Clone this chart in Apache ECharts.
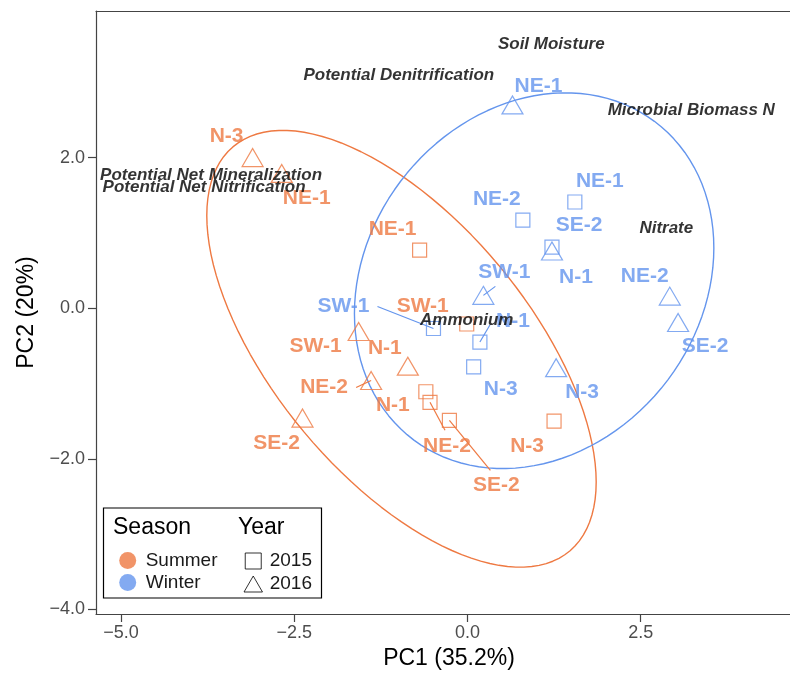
<!DOCTYPE html>
<html>
<head>
<meta charset="utf-8">
<script src="https://cdn.jsdelivr.net/npm/echarts@6/dist/echarts.min.js"></script>
<style>
html,body{margin:0;padding:0;background:#fff;}
#chart{width:790px;height:675px;}
</style>
</head>
<body>
<div id="chart"></div>
<script>
// ---------------- DATA ----------------
const summerSites = ['N-3','NE-1','SE-2','NE-2','SW-1','N-1','NE-1','SW-1','N-1','NE-2','SE-2','N-3'];
const summerYears = [2016,2016,2016,2016,2016,2016,2015,2015,2015,2015,2015,2015];
const summerPC1   = [-3.10,-2.68,-2.38,-1.39,-1.57,-0.86,-0.69,-0.01,-0.60,-0.54,-0.26,1.25];
const summerPC2   = [2.00,1.79,-1.46,-0.96,-0.31,-0.77,0.77,-0.21,-1.11,-1.25,-1.49,-1.50];

const winterSites = ['NE-1','N-1','SW-1','NE-2','SE-2','N-3','NE-1','NE-2','SE-2','SW-1','N-1','N-3'];
const winterYears = [2016,2016,2016,2016,2016,2016,2015,2015,2015,2015,2015,2015];
const winterPC1   = [0.65,1.22,0.23,2.92,3.04,1.28,1.55,0.80,1.22,-0.49,0.18,0.09];
const winterPC2   = [2.70,0.76,0.17,0.16,-0.19,-0.79,1.41,1.17,0.81,-0.27,-0.45,-0.78];

const loadingNames = ['Soil Moisture','Potential Denitrification','Microbial Biomass N','Nitrate','Ammonium','Potential Net Mineralization','Potential Net Nitrification'];
const loadingPC1   = [1.21,-0.99,3.23,2.87,-0.01,-3.70,-3.80];
const loadingPC2   = [3.51,3.09,2.63,1.06,-0.16,1.77,1.61];

const seasons = ['Summer','Winter'];
const years = ['2015','2016'];
const pc1Ticks = [-5,-2.5,0,2.5];
const pc2Ticks = [-4,-2,0,2];
const ellipseLevel = 0.95;

// ---------------- LAYOUT / STYLE (label placement in px) ----------------
const summerLabelOffset = [[-26,-21],[25,25],[-26,25],[-47,7],[-43,15],[-23,-18],[-27,-21],[-44,-18],[-33,13],[17,44],[47,65],[-27,25]];
const winterLabelOffset = [[26,-19],[24,26],[21,-23],[-25,-20],[27,24],[26,25],[25,-21],[-26,-21],[27,-22],[-90,-22],[33,-21],[27,22]];
const summerSegments = [null,null,null,[-15,7],null,null,null,null,null,[15,28],[41,50],null];
const winterSegments = [null,null,[12,-9],null,null,null,null,null,null,[-56,-22],[10,-17],null];

const ORANGE = '#EE7942';
const BLUE = '#6495ED';
const FONT = 'Liberation Sans, Arial, Helvetica, sans-serif';

// ---------------- ELLIPSE (stat_ellipse default type "t": MASS::cov.trob) ----------------
function covTrob(xs, ys, nu) {
  const n = xs.length, p = 2;
  let loc = [xs.reduce((a,b)=>a+b,0)/n, ys.reduce((a,b)=>a+b,0)/n];
  let w = new Array(n).fill(1);
  let X = [];
  for (let it = 0; it < 200; it++) {
    const w0 = w.slice();
    X = xs.map((x,i)=>[x-loc[0], ys[i]-loc[1]]);
    const sw = w.reduce((a,b)=>a+b,0);
    let a=0,b=0,c=0;
    X.forEach((v,i)=>{a+=w[i]*v[0]*v[0]; b+=w[i]*v[0]*v[1]; c+=w[i]*v[1]*v[1];});
    a/=sw; b/=sw; c/=sw;
    const det = a*c-b*b;
    w = X.map(v=>{const Q=(c*v[0]*v[0]-2*b*v[0]*v[1]+a*v[1]*v[1])/det; return (nu+p)/(nu+Q);});
    const sw2 = w.reduce((s,v)=>s+v,0);
    loc = [xs.reduce((s,x,i)=>s+w[i]*x,0)/sw2, ys.reduce((s,y,i)=>s+w[i]*y,0)/sw2];
    if (w.every((v,i)=>Math.abs(v-w0[i])<1e-4)) break;
  }
  let a=0,b=0,c=0;
  X.forEach((v,i)=>{a+=w[i]*v[0]*v[0]; b+=w[i]*v[0]*v[1]; c+=w[i]*v[1]*v[1];});
  return {center: loc, cov: [a/n, b/n, c/n]};
}
function ellipsePoints(xs, ys, level) {
  const n = xs.length;
  const r = covTrob(xs, ys, 5);
  const dfd = n-1;
  const F = (dfd/2) * (Math.pow(1-level, -2/dfd) - 1); // qf(level, 2, n-1)
  const radius = Math.sqrt(2 * F);
  const r11 = Math.sqrt(r.cov[0]);
  const r12 = r.cov[1]/r11;
  const r22 = Math.sqrt(r.cov[2]-r12*r12);
  const pts = [];
  const seg = 120;
  for (let k = 0; k <= seg; k++) {
    const t = 2*Math.PI*k/seg;
    const ct = Math.cos(t), st = Math.sin(t);
    pts.push([r.center[0] + radius*(ct*r11), r.center[1] + radius*(ct*r12 + st*r22)]);
  }
  return pts;
}

function pointData(sites, yrs, xs, ys, offs) {
  return sites.map((s,i)=>({
    name: s,
    value: [xs[i], ys[i]],
    symbol: yrs[i] === 2015 ? 'rect' : 'triangle',
    symbolSize: yrs[i] === 2015 ? [14,14] : [21,18],
    label: {offset: offs[i]}
  }));
}
function segSeries(xs, ys, segs, color) {
  return {
    type: 'custom',
    coordinateSystem: 'cartesian2d',
    silent: true,
    z: 3,
    data: xs.map((x,i)=>[x, ys[i]]),
    renderItem: function(params, api) {
      const s = segs[params.dataIndex];
      if (!s) return null;
      const p = api.coord([api.value(0), api.value(1)]);
      return {type:'line', shape:{x1:p[0], y1:p[1], x2:p[0]+s[0], y2:p[1]+s[1]},
              style:{stroke: color, lineWidth: 1.2}};
    }
  };
}
function scatterSeries(name, color, data) {
  return {
    name: name, type: 'scatter', z: 4,
    data: data,
    itemStyle: {color: 'rgba(0,0,0,0)', borderColor: color, borderWidth: 1.2},
    label: {show: true, position: 'inside', formatter: '{b}', color: color,
            fontFamily: FONT, fontWeight: 'bold', fontSize: 21},
    emphasis: {disabled: true}
  };
}
const fmt = v => (v < 0 ? '\u2212' : '') + Math.abs(v).toFixed(1);

const chart = echarts.init(document.getElementById('chart'), null, {renderer: 'canvas'});
chart.setOption({
  animation: false,
  backgroundColor: '#fff',
  grid: {left: 96, right: 0, top: 11, bottom: 61, containLabel: false},
  xAxis: [{
    type: 'value', min: -5.36, max: 4.655, position: 'bottom',
    name: 'PC1 (35.2%)', nameLocation: 'middle', nameGap: 31,
    nameTextStyle: {fontFamily: FONT, fontSize: 23, color: '#000', padding: [0,0,0,12]},
    splitLine: {show: false},
    axisLine: {show: true, onZero: false, lineStyle: {color: '#444', width: 1.2}},
    axisTick: {show: true, length: 8, customValues: pc1Ticks, lineStyle: {color: '#444', width: 1.2}},
    axisLabel: {customValues: pc1Ticks, formatter: fmt, margin: 10, color: '#4d4d4d', fontFamily: FONT, fontSize: 18}
  }, {
    type: 'value', min: -5.36, max: 4.655, position: 'top',
    splitLine: {show: false},
    axisLine: {show: true, onZero: false, lineStyle: {color: '#444', width: 1.2}},
    axisTick: {show: false}, axisLabel: {show: false}
  }],
  yAxis: {
    type: 'value', min: -4.062, max: 3.947,
    name: 'PC2 (20%)', nameLocation: 'middle', nameGap: 56, nameRotate: 90,
    nameTextStyle: {fontFamily: FONT, fontSize: 23, color: '#000'},
    splitLine: {show: false},
    axisLine: {show: true, onZero: false, lineStyle: {color: '#444', width: 1.2}},
    axisTick: {show: true, length: 8, customValues: pc2Ticks, lineStyle: {color: '#444', width: 1.2}},
    axisLabel: {customValues: pc2Ticks, formatter: fmt, margin: 11, color: '#4d4d4d', fontFamily: FONT, fontSize: 18}
  },
  legend: [{
    left: 119.2, top: 551, orient: 'vertical', padding: 0,
    itemWidth: 26, itemHeight: 17, itemGap: 3, selectedMode: false, z: 12,
    textStyle: {fontFamily: FONT, fontSize: 19, color: '#1a1a1a'},
    data: [
      {name: seasons[0], icon: 'circle', itemStyle: {color: ORANGE, borderWidth: 0}},
      {name: seasons[1], icon: 'circle', itemStyle: {color: BLUE, borderWidth: 0}}
    ]
  }, {
    left: 243.5, top: 551.5, orient: 'vertical', padding: 0,
    itemWidth: 23, itemHeight: 16, itemGap: 4, selectedMode: false, z: 12, symbolKeepAspect: true,
    textStyle: {fontFamily: FONT, fontSize: 19, color: '#1a1a1a'},
    data: [
      {name: years[0], icon: 'path://M0,0L10,0L10,10L0,10Z', itemStyle: {color: 'rgba(0,0,0,0)', borderColor: '#000', borderWidth: 1}},
      {name: years[1], icon: 'path://M5,0L10,8.66L0,8.66Z', itemStyle: {color: 'rgba(0,0,0,0)', borderColor: '#000', borderWidth: 1}}
    ]
  }],
  graphic: [
    {type: 'rect', z: 10, shape: {x: 103.5, y: 508, width: 218, height: 90},
     style: {fill: '#fff', stroke: '#000', lineWidth: 1.2}},
    {type: 'text', z: 11, x: 113, y: 528, style: {text: 'Season', fontFamily: FONT, fontSize: 23, fill: '#000', verticalAlign: 'middle'}},
    {type: 'text', z: 11, x: 238, y: 528, style: {text: 'Year', fontFamily: FONT, fontSize: 23, fill: '#000', verticalAlign: 'middle'}}
  ],
  series: [
    {name: 'Summer ellipse', type: 'line', data: ellipsePoints(summerPC1, summerPC2, ellipseLevel), showSymbol: false, silent: true, z: 1,
     lineStyle: {color: ORANGE, width: 1.4}},
    {name: 'Winter ellipse', type: 'line', data: ellipsePoints(winterPC1, winterPC2, ellipseLevel), showSymbol: false, silent: true, z: 1,
     lineStyle: {color: BLUE, width: 1.4}},
    segSeries(summerPC1, summerPC2, summerSegments, ORANGE),
    segSeries(winterPC1, winterPC2, winterSegments, BLUE),
    scatterSeries(seasons[0], ORANGE, pointData(summerSites, summerYears, summerPC1, summerPC2, summerLabelOffset)),
    scatterSeries(seasons[1], BLUE, pointData(winterSites, winterYears, winterPC1, winterPC2, winterLabelOffset)),
    {name: 'Loadings', type: 'scatter', symbolSize: 0, z: 5, silent: true,
     data: loadingNames.map((n,i)=>({name: n, value: [loadingPC1[i], loadingPC2[i]]})),
     label: {show: true, position: 'inside', formatter: '{b}', color: '#000',
             fontFamily: FONT, fontStyle: 'italic', fontWeight: 'bold', fontSize: 17}},
    {name: years[0], type: 'scatter', data: []},
    {name: years[1], type: 'scatter', data: []}
  ]
});
</script>
</body>
</html>
